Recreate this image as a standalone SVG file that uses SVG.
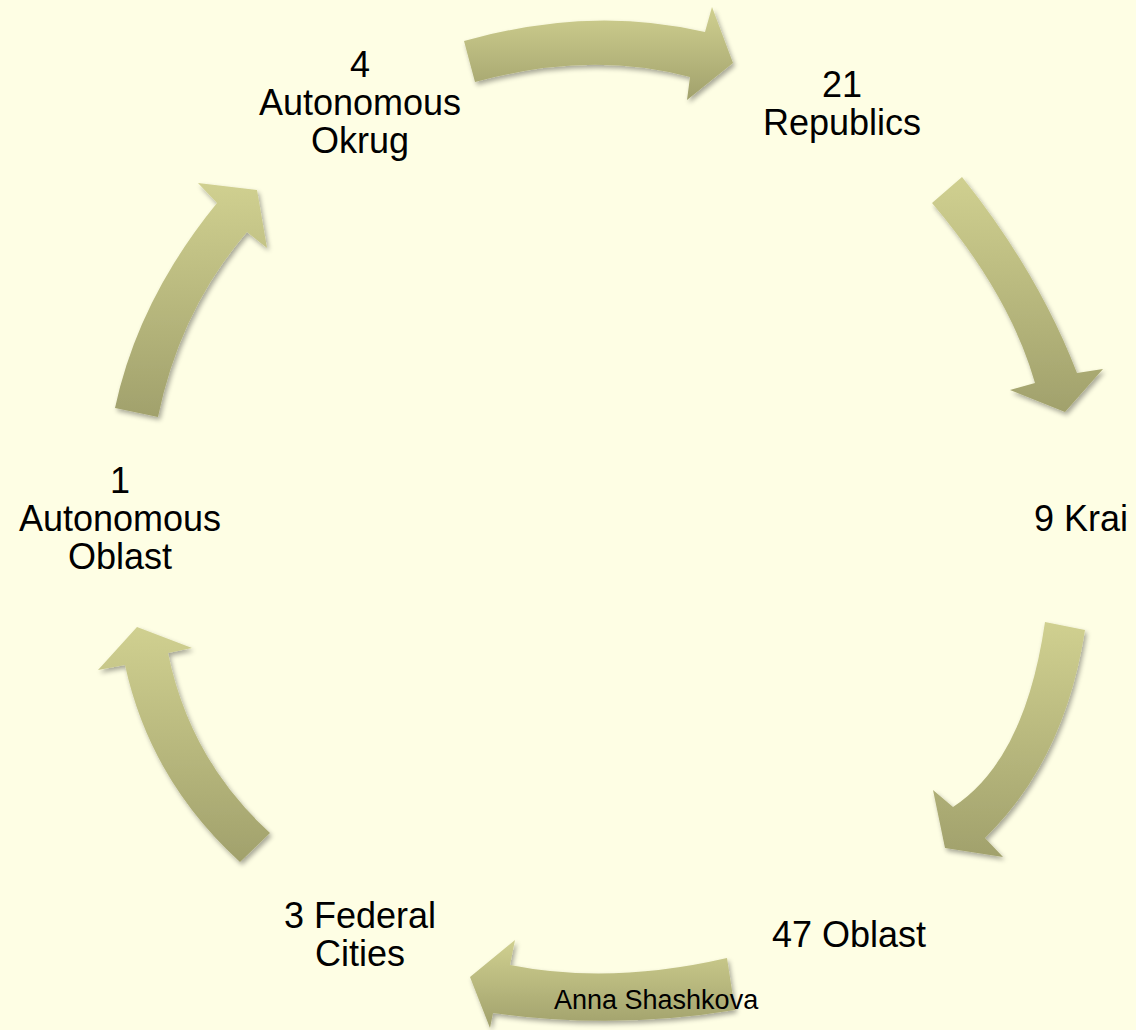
<svg xmlns="http://www.w3.org/2000/svg" width="1136" height="1030" viewBox="0 0 1136 1030">
<defs>
<linearGradient id="g" x1="0" y1="0" x2="0" y2="1">
<stop offset="0" stop-color="#D0D090"/>
<stop offset="1" stop-color="#A1A16C"/>
</linearGradient>
<filter id="sh" x="-20%" y="-20%" width="140%" height="140%">
<feGaussianBlur in="SourceAlpha" stdDeviation="2.5"/>
<feOffset dx="2" dy="3" result="b"/>
<feComponentTransfer><feFuncA type="linear" slope="0.35"/></feComponentTransfer>
<feMerge><feMergeNode/><feMergeNode in="SourceGraphic"/></feMerge>
</filter>
<style>
.arr{fill:url(#g);filter:url(#sh);}
.lbl{font-family:"Liberation Sans",Arial,sans-serif;font-size:36px;fill:#000;text-anchor:middle;}
.sig{font-family:"Liberation Sans",Arial,sans-serif;font-size:27px;fill:#000;}
</style>
</defs>
<rect width="1136" height="1030" fill="#FEFEE4"/>
<g id="connectors">
<path class="arr" d="M464,41 Q590,5 705,32 L712,7 L733,63 L687,100 L690,77 Q590,50 475,82 Z"/>
<path class="arr" d="M962,177 Q1038,272 1077,373 L1103,369 L1065,412 L1010,390 L1035,383 Q1010,295 932,203 Z"/>
<path class="arr" d="M1045,622 L1085,630 Q1065,760 985,838 L1003,857 L945,848 L933,790 L953,807 Q1025,760 1045,622 Z"/>
<path class="arr" d="M727,958 Q610,985 510,965 L515,940 L470,977 L490,1028 L493,1013 Q615,1030 735,1010 Z"/>
<path class="arr" d="M137,627 L192,648 L168,653 Q190,760 270,833 L240,862 Q150,780 125,665 L98,670 Z"/>
<path class="arr" d="M115,408 Q138,300 217,203 L198,183 L257,190 L267,248 L247,232 Q180,310 158,417 Z"/>
</g>
<g id="node-okrug"><text class="lbl" x="360" y="77">4</text><text class="lbl" x="360" y="115">Autonomous</text><text class="lbl" x="360" y="153">Okrug</text></g>
<g id="node-republics"><text class="lbl" x="842" y="97">21</text><text class="lbl" x="842" y="135">Republics</text></g>
<g id="node-krai"><text class="lbl" x="1081" y="531">9 Krai</text></g>
<g id="node-oblast"><text class="lbl" x="849" y="947">47 Oblast</text></g>
<g id="node-federal"><text class="lbl" x="360" y="928">3 Federal</text><text class="lbl" x="360" y="966">Cities</text></g>
<g id="node-autoblast"><text class="lbl" x="120" y="493">1</text><text class="lbl" x="120" y="531">Autonomous</text><text class="lbl" x="120" y="569">Oblast</text></g>
<g id="credit"><text class="sig" x="554" y="1009">Anna Shashkova</text></g>
</svg>
